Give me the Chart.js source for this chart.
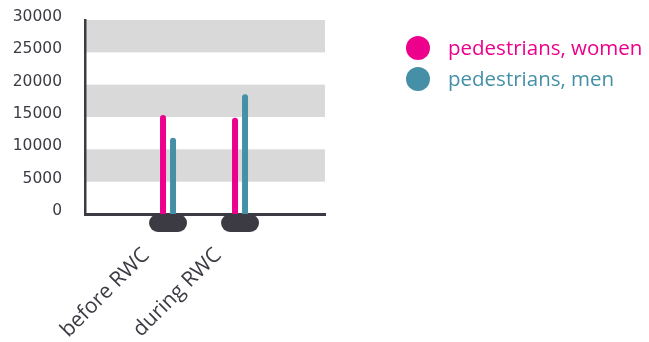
<!DOCTYPE html>
<html>
<head>
<meta charset="utf-8">
<title>Pedestrians before and during RWC</title>
<script src="https://cdn.jsdelivr.net/npm/chart.js@4.4.1/dist/chart.umd.min.js"></script>
<style>
  body { margin: 0; background: #fff; }
  canvas { display: block; }
</style>
</head>
<body>
<canvas id="chart" width="649" height="342"></canvas>
<script>
// --- data ---
const categories = ['before RWC', 'during RWC'];
const seriesNames = ['pedestrians, women', 'pedestrians, men'];
const womenValues = [15300, 14900];
const menValues = [11800, 18500];
const yTicks = [0, 5000, 10000, 15000, 20000, 25000, 30000];

// --- colours ---
const PINK = '#ec008c';
const TEAL = '#4590a7';
const DARK = '#3c3b44';
const BAND = '#d9d9d9';

// x is a linear axis so both groups can sit near the middle of a wide plot
const toPoints = vals => vals.map((v, i) => ({ x: i, y: v }));

// grey stripes between every other pair of y ticks
const bandsPlugin = {
  id: 'bands',
  beforeDraw(chart) {
    const { ctx, chartArea, scales: { y } } = chart;
    ctx.save();
    ctx.fillStyle = BAND;
    for (let i = 1; i < yTicks.length - 1; i += 2) {
      const top = y.getPixelForValue(yTicks[i + 1]);
      const bottom = y.getPixelForValue(yTicks[i]);
      ctx.fillRect(chartArea.left, top, chartArea.right - chartArea.left, bottom - top);
    }
    ctx.restore();
  }
};

// dark rounded "feet" under each group of bars
const feetPlugin = {
  id: 'feet',
  afterDatasetsDraw(chart) {
    const { ctx, chartArea, scales: { x } } = chart;
    const w = 38, h = 18;
    ctx.save();
    ctx.fillStyle = DARK;
    x.ticks.forEach((t, i) => {
      const cx = x.getPixelForTick(i);
      ctx.beginPath();
      ctx.roundRect(cx - w / 2, chartArea.bottom, w, h, h / 2);
      ctx.fill();
    });
    ctx.restore();
  }
};

// legend: big dots with text in the series colour
const dotLegendPlugin = {
  id: 'dotLegend',
  afterDraw(chart) {
    const ctx = chart.ctx;
    ctx.save();
    ctx.font = '20.5px "Open Sans"';
    ctx.textAlign = 'left';
    ctx.textBaseline = 'middle';
    chart.data.datasets.forEach((ds, i) => {
      const y = 48 + i * 31;
      ctx.fillStyle = ds.backgroundColor;
      ctx.beginPath();
      ctx.arc(418, y, 12, 0, Math.PI * 2);
      ctx.fill();
      ctx.fillText(ds.label, 448, y + 1);
    });
    ctx.restore();
  }
};

const barStyle = {
  categoryPercentage: 0.2778,
  barPercentage: 0.6,
  borderRadius: 3
};

new Chart(document.getElementById('chart'), {
  type: 'bar',
  data: {
    datasets: [
      { label: seriesNames[0], data: toPoints(womenValues), backgroundColor: PINK, ...barStyle },
      { label: seriesNames[1], data: toPoints(menValues), backgroundColor: TEAL, ...barStyle }
    ]
  },
  options: {
    responsive: false,
    animation: false,
    devicePixelRatio: 1,
    layout: { padding: { left: 0, right: 324, top: 20, bottom: 0 } },
    plugins: {
      legend: { display: false },
      tooltip: { enabled: false }
    },
    scales: {
      x: {
        type: 'linear',
        offset: false,
        min: -1.153,
        max: 2.18,
        afterBuildTicks: s => { s.ticks = categories.map((c, i) => ({ value: i })); },
        afterFit: s => { s.height = 128; },
        grid: { display: false },
        border: { color: DARK, width: 3 },
        ticks: {
          callback: v => categories[v],
          autoSkip: false,
          minRotation: 45,
          maxRotation: 45,
          padding: 21,
          labelOffset: -22,
          color: DARK,
          font: { family: 'Open Sans', size: 21 }
        }
      },
      y: {
        min: 0,
        max: 30000,
        afterBuildTicks: s => { s.ticks = yTicks.map(v => ({ value: v })); },
        afterFit: s => { s.width = 85; },
        // tick marks are hidden; their length only spaces the labels off the axis
        grid: { display: false, tickLength: 21 },
        border: { color: DARK, width: 2.5 },
        ticks: {
          callback: v => String(v),
          padding: 2,
          labelOffset: -3,
          color: DARK,
          font: { family: 'DejaVu Sans', size: 15.5 }
        }
      }
    }
  },
  plugins: [bandsPlugin, feetPlugin, dotLegendPlugin]
});
</script>
</body>
</html>
